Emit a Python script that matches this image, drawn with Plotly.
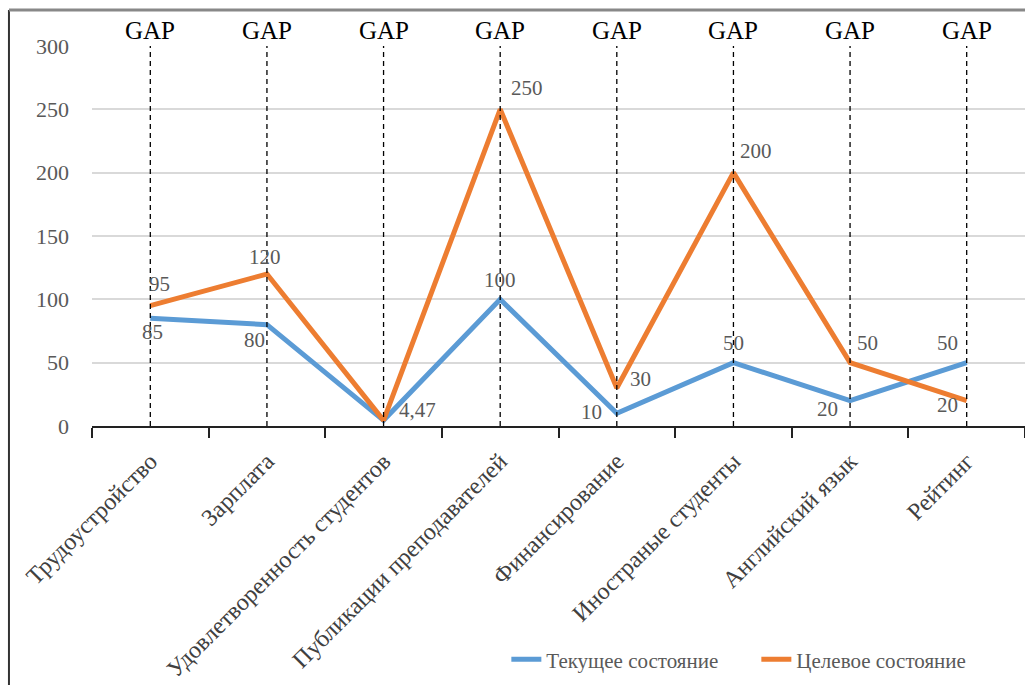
import plotly.graph_objects as go

categories = ["Трудоустройство", "Зарплата", "Удовлетворенность студентов",
              "Публикации преподавателей", "Финансирование", "Иностраные студенты",
              "Английский язык", "Рейтинг"]
current = [85, 80, 4.47, 100, 10, 50, 20, 50]
target = [95, 120, 4.47, 250, 30, 200, 50, 20]
current_labels = ["85", "80", "4,47", "100", "10", "50", "20", "50"]
target_labels = ["95", "120", "", "250", "30", "200", "50", "20"]
gap_text = "GAP"
y_ticks = [0, 50, 100, 150, 200, 250, 300]

# label offsets in pixels (dx, dy-up) relative to each point
current_offsets = [(2, -14), (-12, -15), (34, 10), (0, 19), (-25, 1), (0, 20), (-23, -8), (-19, 20)]
target_offsets = [(9, 22), (-2, 17), (0, 0), (27, 21), (24, 9), (23, 22), (17, 20), (-19, -4)]

FONT = "Times New Roman, Liberation Serif, DejaVu Serif, serif"
x_idx = list(range(len(categories)))

fig = go.Figure()
fig.add_trace(go.Scatter(
    x=x_idx, y=current, mode="lines", name="Текущее состояние",
    line=dict(color="#5B9BD5", width=5)))
fig.add_trace(go.Scatter(
    x=x_idx, y=target, mode="lines", name="Целевое состояние",
    line=dict(color="#ED7D31", width=5)))

for series, labels, offs in [(current, current_labels, current_offsets),
                             (target, target_labels, target_offsets)]:
    for i, (v, t, (dx, dy)) in enumerate(zip(series, labels, offs)):
        if t:
            fig.add_annotation(x=i, y=v, xref="x", yref="y", text=t, showarrow=False,
                               xshift=dx, yshift=dy,
                               font=dict(family=FONT, size=21, color="#595959"))

for i in x_idx:
    fig.add_shape(type="line", xref="x", yref="y", x0=i, x1=i, y0=y_ticks[0], y1=y_ticks[-1],
                  line=dict(color="black", width=1.3, dash="5px,4px"), layer="above")
    fig.add_annotation(x=i, xref="x", y=1, yref="paper", yanchor="bottom", yshift=0,
                       text=gap_text, showarrow=False,
                       font=dict(family=FONT, size=25, color="black"))

# frame lines (left and top)
fig.add_shape(type="line", xref="paper", yref="paper", x0=-0.089, x1=-0.089, y0=-0.7, y1=1.095,
              line=dict(color="#333333", width=2))
fig.add_shape(type="line", xref="paper", yref="paper", x0=-0.089, x1=1.01, y0=1.095, y1=1.095,
              line=dict(color="#888888", width=3))

fig.update_layout(
    width=1025, height=685,
    margin=dict(l=92, r=0, t=46, b=259, autoexpand=False),
    paper_bgcolor="white", plot_bgcolor="white",
    font=dict(family=FONT, color="#404040"),
    showlegend=True,
    legend=dict(orientation="h", xref="container", x=0.494, xanchor="left",
                yref="container", y=0.037, yanchor="middle",
                font=dict(family=FONT, size=21, color="#595959"),
                entrywidth=205, entrywidthmode="pixels",
                tracegroupgap=0, bgcolor="rgba(0,0,0,0)"),
    xaxis=dict(
        range=[-0.5, len(categories) - 0.5], tickmode="array", tickvals=x_idx,
        ticktext=categories, tickangle=-45, showgrid=False, zeroline=False,
        showline=True, linecolor="#222222", linewidth=1.5, automargin=False,
        ticks="", ticklabelstandoff=10,
        tickfont=dict(family=FONT, size=24, color="#404040")),
    yaxis=dict(
        range=[0, 300], tickvals=y_ticks, showgrid=True, gridcolor="#d9d9d9", gridwidth=1.5,
        zeroline=False, showline=False, ticks="", ticklabelstandoff=22, automargin=False,
        tickfont=dict(family=FONT, size=22, color="#595959")),
)

# boundary tick marks via minor ticks
fig.update_xaxes(minor=dict(tickmode="array",
                            tickvals=[i - 0.5 for i in x_idx] + [len(categories) - 0.5],
                            ticks="outside", ticklen=10, tickcolor="#222222", tickwidth=1.5))

fig.write_html("out.html")
